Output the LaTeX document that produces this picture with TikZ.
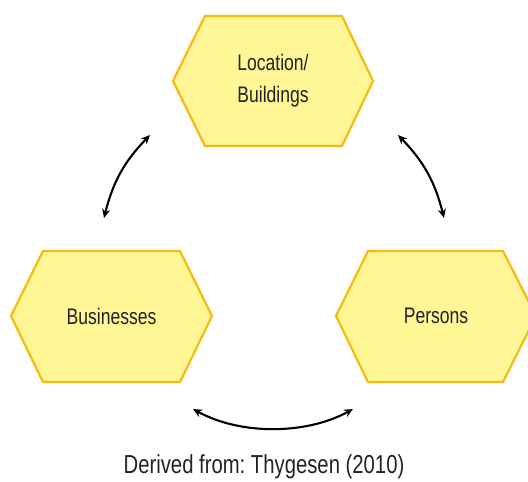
\documentclass[tikz,border=0pt]{standalone}
\usepackage{fontspec}
\setmainfont{Liberation Sans}[FakeStretch=0.78]
\usetikzlibrary{arrows.meta}
\definecolor{hexfill}{RGB}{255,246,150}
\definecolor{hexborder}{RGB}{246,186,18}
\definecolor{txt}{RGB}{35,35,35}
\begin{document}
\frenchspacing
\begin{tikzpicture}[x=1pt,y=-1pt,
  hexagon/.style={draw=hexborder,fill=hexfill,line width=2.2pt,line join=miter},
  hexlabel/.style={text=txt,font=\fontsize{22.5}{32}\selectfont,align=center,inner sep=0pt},
  link/.style={line width=2.1pt,{Stealth[length=9pt,width=8pt]}-{Stealth[length=9pt,width=8pt]}}]
\useasboundingbox (0,0) rectangle (528,482);
% hexagons
\path[hexagon] (173,81) -- (205,16) -- (342,16) -- (373,81) -- (342,146) -- (205,146) -- cycle;
\path[hexagon] (11,316) -- (43,251) -- (180,251) -- (212,316) -- (180,382) -- (43,382) -- cycle;
\path[hexagon] (336,316) -- (368,251) -- (503,251) -- (536,316) -- (503,382) -- (368,382) -- cycle;
% labels
\node[hexlabel] (loc) at (273,81) {Location/\\Buildings};
\node[hexlabel] (bus) at (111.5,316) {Businesses};
\node[hexlabel] (per) at (436,316) {Persons};
% arrow ends
\coordinate (lA) at (104,218);
\coordinate (lB) at (150,135);
\coordinate (rA) at (398,135);
\coordinate (rB) at (444,218);
\coordinate (bA) at (193,409);
\coordinate (bB) at (353,409);
\draw[link] (lA) to[bend left=15] (lB);
\draw[link] (rA) to[bend left=15] (rB);
\draw[link] (bA) .. controls (240,435) and (306,435) .. (bB);
% caption
\node[text=txt,font=\fontsize{26}{30}\selectfont,inner sep=0pt] (cap) at (264,467) {Derived from: Thygesen (2010)};
\end{tikzpicture}
\end{document}
